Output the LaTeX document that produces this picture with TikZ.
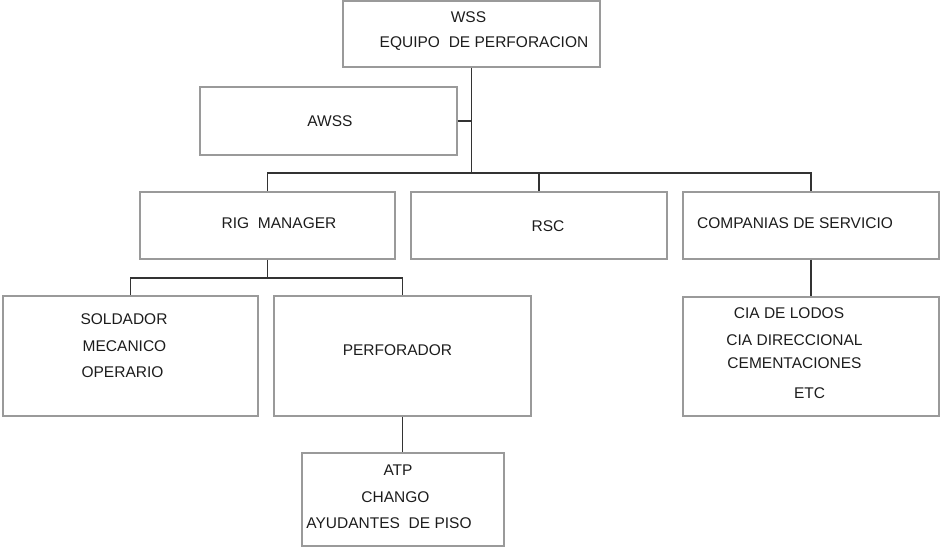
\documentclass[tikz,border=0pt]{standalone}
\usepackage{fontspec}
\setmainfont{Liberation Sans}
\usetikzlibrary{positioning}
\definecolor{boxgray}{HTML}{9A9A9A}
\definecolor{linegray}{HTML}{333333}
\definecolor{inkgray}{HTML}{1C1C1C}
\tikzset{
    orgbox/.style={
        rectangle,
        draw=boxgray,
        line width=1.3pt,
        minimum width=256pt,
        minimum height=67pt,
        inner sep=0pt
    },
    orgtext/.style={
        inner sep=0pt,
        text=inkgray,
        font=\fontsize{15.5}{18}\selectfont
    },
    orglink/.style={
        draw=linegray,
        line width=1.2pt
    }
}

\begin{document}
\begin{tikzpicture}[x=1pt, y=1pt]
    \useasboundingbox (0,0) rectangle (940,-548);

    % boxes
    \node[orgbox, minimum width=257pt, minimum height=66pt] (wss) at (471.5,-34) {};
    \node[orgbox, minimum width=257pt, minimum height=68pt] (awss) at (328.5,-121) {};
    \node[orgbox, minimum width=255pt] (rig) at (267.5,-225.5) {};
    \node[orgbox] (rsc) at (539,-225.5) {};
    \node[orgbox] (comp) at (811,-225.5) {};
    \node[orgbox, minimum width=255pt, minimum height=120pt] (sold) at (130.5,-356) {};
    \node[orgbox, minimum width=257pt, minimum height=120pt] (perf) at (402.5,-356) {};
    \node[orgbox, minimum height=119pt] (cia) at (811,-356.5) {};
    \node[orgbox, minimum width=202pt, minimum height=93pt] (atp) at (403,-499.5) {};

    % texts
    \node[orgtext] (wssA) at (468.5,-17) {WSS};
    \node[orgtext] (wssB) at (484,-43.5) {EQUIPO\hspace{4.5pt} DE PERFORACION};
    \node[orgtext] (awssA) at (330,-121) {AWSS};
    \node[orgtext] (rigA) at (279,-223) {RIG\hspace{4.5pt} MANAGER};
    \node[orgtext] (rscA) at (548,-226) {RSC};
    \node[orgtext] (compA) at (795,-223) {COMPANIAS DE SERVICIO};
    \node[orgtext] (soldA) at (124,-319.5) {SOLDADOR};
    \node[orgtext] (soldB) at (124.5,-346) {MECANICO};
    \node[orgtext] (soldC) at (122.5,-372) {OPERARIO};
    \node[orgtext] (perfA) at (397.5,-350) {PERFORADOR};
    \node[orgtext] (atpA) at (398,-470) {ATP};
    \node[orgtext] (atpB) at (395.5,-497) {CHANGO};
    \node[orgtext] (atpC) at (389,-523.5) {AYUDANTES\hspace{4.5pt} DE PISO};
    \node[orgtext] (ciaA) at (789,-313) {CIA DE LODOS};
    \node[orgtext] (ciaB) at (794.5,-340) {CIA DIRECCIONAL};
    \node[orgtext] (ciaC) at (794.5,-363) {CEMENTACIONES};
    \node[orgtext] (ciaD) at (809.5,-393) {ETC};

    % connectors
    \coordinate (topbus) at (471.5,-173);
    \coordinate (rigbus) at (267.5,-278);
    \draw[orglink] (wss.south) -- (topbus);
    \draw[orglink] (awss.east) -- (awss.east -| topbus);
    \draw[orglink] (topbus) -| (rig.north);
    \draw[orglink] (topbus) -| (rsc.north);
    \draw[orglink] (topbus) -| (comp.north);
    \draw[orglink] (rig.south) -- (rigbus);
    \draw[orglink] (rigbus) -| (sold.north);
    \draw[orglink] (rigbus) -| (perf.north);
    \draw[orglink] (comp.south) -- (cia.north);
    \draw[orglink] (perf.south) -- (perf.south |- atp.north);
\end{tikzpicture}
\end{document}
